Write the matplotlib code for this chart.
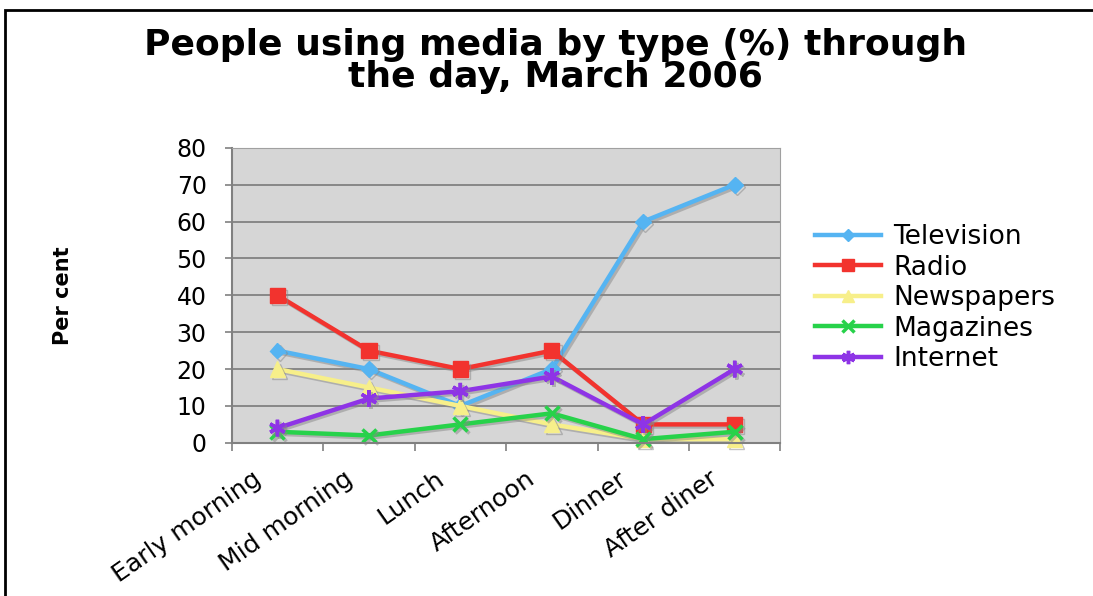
import matplotlib
matplotlib.use('Agg')
import matplotlib.pyplot as plt
from matplotlib.patches import Rectangle
import matplotlib.patheffects as pe

# Share of people using each medium, by time of day
times = ['Early morning', 'Mid morning', 'Lunch', 'Afternoon', 'Dinner', 'After diner']
television = [25, 20, 10, 20, 60, 70]
radio = [40, 25, 20, 25, 5, 5]
newspapers = [20, 15, 10, 5, 1, 1]
magazines = [3, 2, 5, 8, 1, 3]
internet = [4, 12, 14, 18, 5, 20]

series = [
    ('Television', television, '#55b4f2', 'D', 8),
    ('Radio', radio, '#f2332e', 's', 11),
    ('Newspapers', newspapers, '#f7ef8a', '^', 11),
    ('Magazines', magazines, '#27d24a', 'x', 10),
    ('Internet', internet, '#8e34e6', (6, 2, 0), 12),
]

fig = plt.figure(figsize=(10.93, 5.96), dpi=100)
ax = fig.add_axes([0.212, 0.257, 0.502, 0.495])
ax.set_facecolor('#d6d6d6')

shadow = [pe.SimpleLineShadow(offset=(1.5, -1.5), shadow_color='#888888', alpha=0.5), pe.Normal()]
x = range(len(times))
for name, vals, color, marker, ms in series:
    thin = marker == 'x' or isinstance(marker, tuple)
    ax.plot(x, vals, color=color, lw=3.2, marker=marker, markersize=ms,
            markeredgewidth=2.5 if thin else 1, markeredgecolor=color,
            label=name, path_effects=shadow, clip_on=False)

ax.set_xlim(-0.5, len(times) - 0.5)
ax.set_ylim(0, 80)
ax.set_yticks(range(0, 81, 10))
ax.yaxis.grid(True, color='#7a7a7a', lw=1.2)
ax.set_axisbelow(True)

# tick marks on the category boundaries, names placed under each category
ax.set_xticks([i - 0.5 for i in range(len(times) + 1)])
ax.set_xticklabels([])
for i, name in enumerate(times):
    ax.annotate(name, xy=(i, 0), xycoords=('data', 'axes fraction'),
                xytext=(-18.5, -17), textcoords='offset points',
                rotation=35, ha='right', va='top', rotation_mode='anchor',
                fontsize=18, annotation_clip=False)
ax.tick_params(axis='x', length=6, color='#808080', width=1.2)
ax.tick_params(axis='y', length=5, color='#808080', width=1.2, labelsize=17, pad=13)
for side in ['left', 'bottom']:
    ax.spines[side].set_color('#808080')
    ax.spines[side].set_linewidth(1.5)
ax.spines['right'].set_color('#a0a0a0')
ax.spines['top'].set_color('#a0a0a0')

ax.set_ylabel('Per cent', fontsize=15, fontweight='bold')
ax.yaxis.set_label_coords(-0.289, 0.5)

fig.text(0.508, 0.897, 'People using media by type (%) through\nthe day, March 2006',
         ha='center', va='center', fontsize=26, fontweight='bold', linespacing=0.93)

leg = fig.legend(loc='upper left', bbox_to_anchor=(0.7457, 0.624), frameon=False,
                 fontsize=19, handlelength=2.5, labelspacing=0.17, handletextpad=0.45,
                 borderpad=0, borderaxespad=0, markerscale=0.8)
for h in leg.legend_handles:
    h.set_path_effects([])

fig.patches.append(Rectangle((0.005, -0.1), 1.1, 1.083, transform=fig.transFigure,
                             fill=False, edgecolor='black', lw=2))

fig.savefig('out.png', dpi=100)
